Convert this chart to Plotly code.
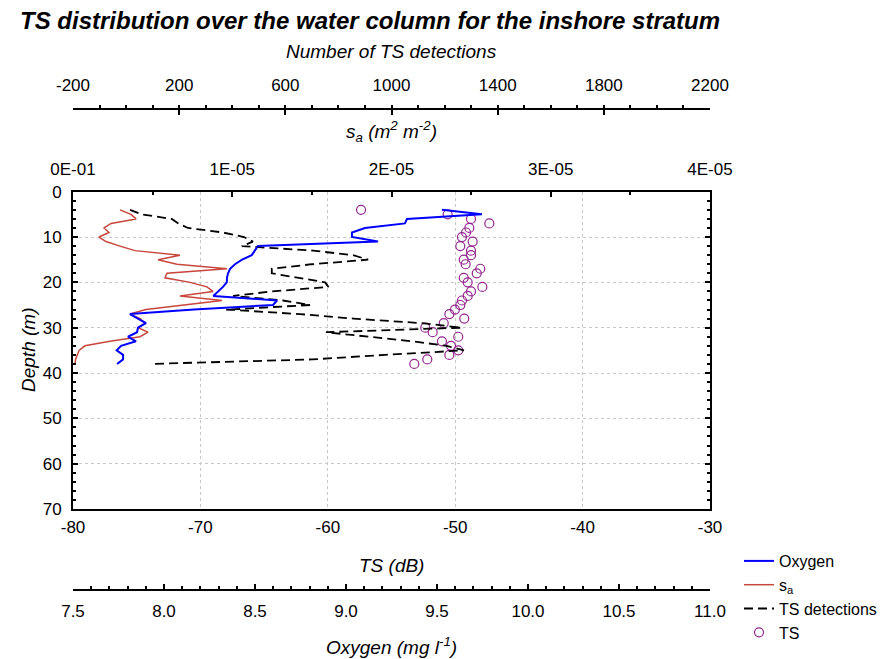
import plotly.graph_objects as go

# ---------------- data ----------------
depth = [4, 5, 6, 7, 8, 9, 10, 11, 12, 13, 14, 15, 16, 17, 18, 19, 20, 21,
         22, 23, 24, 25, 26, 27, 28, 29, 30, 31, 32, 33, 34, 35, 36, 37, 38]

ts_db = [-57.39, -50.59, -48.76, -47.32, -48.89, -49.15, -49.47, -48.63, -49.60,
         -48.76, -48.76, -49.33, -49.18, -48.03, -48.31, -49.33, -49.02, -47.87,
         -48.76, -49.02, -49.47, -49.60, -50.02, -50.46, -49.29, -50.90, -52.35,
         -51.77, -49.76, -51.04, -50.33, -49.76, -50.46, -52.19, -53.21]

n_detections = [15, 59, 172, 197, 233, 365, 444, 478, 436, 705, 855, 912, 700,
                549, 549, 650, 750, 762, 550, 403, 591, 693, 377, 655, 857, 1115,
                1265, 753, 919, 1077, 1207, 1273, 976, 700, 90]

sa = [2.95e-06, 3.64e-06, 3.96e-06, 2.39e-06, 1.95e-06, 2.26e-06, 1.63e-06,
      2.07e-06, 2.95e-06, 3.89e-06, 6.72e-06, 5.34e-06, 6.53e-06, 9.67e-06,
      5.90e-06, 5.78e-06, 7.35e-06, 8.41e-06, 8.79e-06, 6.72e-06, 9.36e-06,
      6.97e-06, 4.58e-06, 3.58e-06, 4.21e-06, 4.52e-06, 4.08e-06, 4.71e-06,
      4.21e-06, 2.32e-06, 7.5e-07, 3.8e-07, 2.5e-07, 1.6e-07, 1.3e-07]

oxygen = [9.527, 9.747, 9.335, 9.324, 9.104, 9.033, 9.033, 9.176, 8.516, 8.500,
          8.482, 8.429, 8.390, 8.363, 8.352, 8.346, 8.345, 8.324, 8.297, 8.271,
          8.621, 8.599, 8.165, 7.813, 7.857, 7.901, 7.857, 7.852, 7.802, 7.846,
          7.764, 7.740, 7.775, 7.775, 7.742]

ts_tickvals = [-80, -70, -60, -50, -40, -30]
ts_ticktext = ["-80", "-70", "-60", "-50", "-40", "-30"]
n_tickvals = [-200, 200, 600, 1000, 1400, 1800, 2200]
n_ticktext = ["-200", "200", "600", "1000", "1400", "1800", "2200"]
sa_tickvals = [0, 1e-05, 2e-05, 3e-05, 4e-05]
sa_ticktext = ["0E-01", "1E-05", "2E-05", "3E-05", "4E-05"]

# ---------------- figure ----------------
OFF = 8                     # page body margin of the html page
W, H = 887 - OFF, 659 - OFF
PT, PB = 100, 609           # paper top / bottom in screen pixels
def py(ypix):               # screen pixel -> paper fraction
    return (PB - ypix) / (PB - PT)

FONT = "Liberation Sans, Arial, sans-serif"
FS = 17

fig = go.Figure()
fig.add_trace(go.Scatter(x=ts_db, y=depth, xaxis="x", yaxis="y", mode="markers",
                         name="TS", legendrank=4,
                         marker=dict(symbol="circle-open", size=9, color="#93278F",
                                     line=dict(width=1.2, color="#93278F"))))
fig.add_trace(go.Scatter(x=n_detections, y=depth, xaxis="x2", yaxis="y", mode="lines",
                         name="TS detections", legendrank=3,
                         line=dict(color="black", width=1.8, dash="9px,5px")))
fig.add_trace(go.Scatter(x=sa, y=depth, xaxis="x3", yaxis="y", mode="lines",
                         name="s<sub>a</sub>", legendrank=2,
                         line=dict(color="#C8463C", width=1.5)))
fig.add_trace(go.Scatter(x=oxygen, y=depth, xaxis="x4", yaxis="y", mode="lines",
                         name="Oxygen", legendrank=1,
                         line=dict(color="#0000FF", width=2)))

axis_common = dict(showline=True, linecolor="black", linewidth=2, zeroline=False,
                   tickfont=dict(family=FONT, size=FS, color="black"))

fig.update_layout(
    width=W, height=H,
    margin=dict(l=73 - OFF, r=W - (710 - OFF), t=PT - OFF, b=H - (PB - OFF),
                autoexpand=False),
    paper_bgcolor="white", plot_bgcolor="white",
    font=dict(family=FONT, size=FS, color="black"),
    title=dict(text="TS distribution over the water column for the inshore stratum",
               font=dict(family=FONT, size=24, weight="bold", style="italic", color="black"),
               xref="container", x=(20 - OFF) / W, xanchor="left",
               yref="container", y=1 - (21 - OFF) / H, yanchor="middle"),
    xaxis=dict(range=[-80, -30], domain=[0, 1], anchor="y", side="bottom",
               tickvals=ts_tickvals, ticktext=ts_ticktext, ticks="",
               showgrid=True, gridcolor="#c8c8c8",
               griddash="dot", gridwidth=1, ticklabelstandoff=2, **axis_common),
    xaxis2=dict(range=[-200, 2200], overlaying="x", anchor="free", side="top",
                position=py(109), tickvals=n_tickvals, ticktext=n_ticktext,
                showgrid=False,
                ticks="inside", ticklen=5, tickwidth=1.5, tickcolor="black",
                minor=dict(dtick=100, tick0=-200, ticks="outside", ticklen=3,
                           tickcolor="black"),
                ticklabelstandoff=10, **axis_common),
    xaxis3=dict(range=[0, 4e-05], overlaying="x", anchor="y", side="top",
                tickvals=sa_tickvals, ticktext=sa_ticktext, showgrid=False,
                ticks="inside", ticklen=5, tickwidth=1.5, tickcolor="black",
                minor=dict(dtick=5e-06, tick0=0, ticks="inside", ticklen=3,
                           tickcolor="black"),
                ticklabelstandoff=8, **axis_common),
    xaxis4=dict(range=[7.5, 11.0], overlaying="x", anchor="free", side="bottom",
                position=py(590), tick0=7.5, dtick=0.5, showgrid=False,
                tickformat=".1f",
                ticks="inside", ticklen=5, tickwidth=1.5, tickcolor="black",
                minor=dict(dtick=0.1, tick0=7.5, ticks="inside", ticklen=3,
                           tickcolor="black"),
                ticklabelstandoff=6, **axis_common),
    yaxis=dict(range=[70, 0], domain=[py(509), py(191.7)], anchor="x",
               dtick=10, ticks="inside", ticklen=5, tickwidth=1.5, tickcolor="black",
               minor=dict(dtick=2, ticks="inside", ticklen=3, tickcolor="black"),
               mirror="ticks", showgrid=True, gridcolor="#c8c8c8", griddash="dot",
               gridwidth=1, ticklabelstandoff=6, **axis_common),
    legend=dict(x=(739 - 73) / 637, xanchor="left", y=py(544), yanchor="top",
                font=dict(family=FONT, size=16, color="black"),
                bgcolor="rgba(0,0,0,0)", tracegroupgap=0, itemwidth=30),
)

ann_font = dict(family=FONT, size=19, style="italic", color="black")
for text, ypix in [("Number of TS detections", 51),
                   ("s<sub>a</sub> (m<sup>2</sup> m<sup>-2</sup>)", 131),
                   ("TS (dB)", 565),
                   ("Oxygen (mg l<sup>-1</sup>)", 646)]:
    fig.add_annotation(text=text, xref="paper", x=0.5, yref="paper", y=py(ypix),
                       xanchor="center", yanchor="middle", showarrow=False,
                       font=ann_font)
fig.add_annotation(text="Depth (m)", xref="paper", x=-(73 - 28) / 637, yref="paper",
                   y=py(350), xanchor="center", yanchor="middle", showarrow=False,
                   textangle=-90, font=ann_font)

fig.write_html("out.html")
